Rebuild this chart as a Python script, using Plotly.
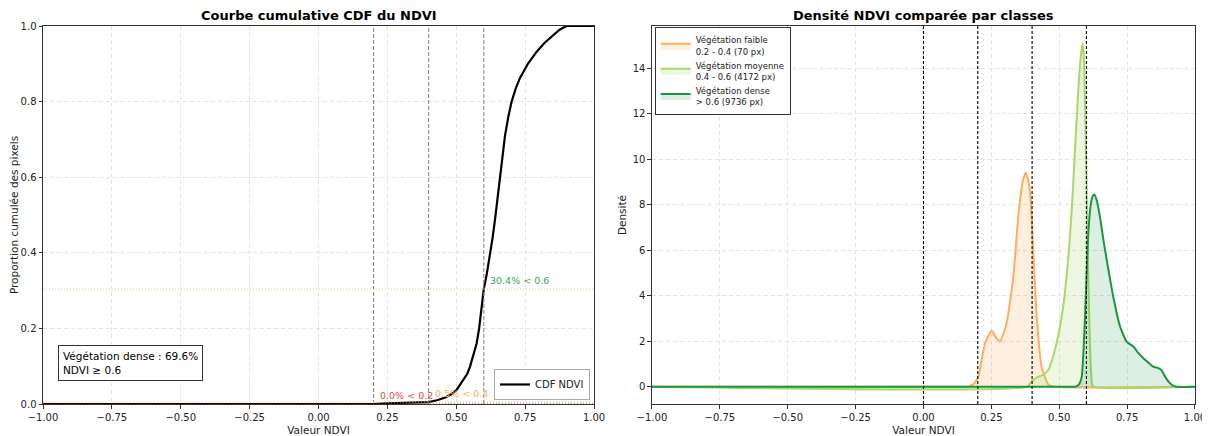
import plotly.graph_objects as go

# ---------------- DATA ----------------
cdf_x = [-1.0, 0.20, 0.25, 0.30, 0.35, 0.40, 0.43, 0.46, 0.48, 0.50, 0.52, 0.54, 0.55, 0.56, 0.574,
         0.583, 0.592, 0.600, 0.611, 0.622, 0.632, 0.641, 0.650, 0.659, 0.668, 0.677, 0.689,
         0.701, 0.716, 0.731, 0.76, 0.792, 0.82, 0.852, 0.875, 0.90, 1.0]
cdf_y = [0.0, 0.0, 0.002, 0.003, 0.004, 0.005, 0.010, 0.017, 0.025, 0.036, 0.058, 0.080, 0.099, 0.122, 0.16,
         0.20, 0.25, 0.304, 0.345, 0.392, 0.44, 0.49, 0.545, 0.605, 0.66, 0.71, 0.76,
         0.80, 0.835, 0.862, 0.90, 0.932, 0.955, 0.976, 0.99, 1.0, 1.0]

thresholds = [0.2, 0.4, 0.6]
threshold_pcts = [0.0, 0.5, 30.4]
threshold_labels = ["0.0% < 0.2", "0.5% < 0.4", "30.4% < 0.6"]
dense_pct = 69.6

faible_x = [-1.0, 0.15, 0.165, 0.185, 0.202, 0.227, 0.251, 0.268, 0.282, 0.306, 0.331, 0.349,
            0.365, 0.376, 0.387, 0.395, 0.404, 0.417, 0.435, 0.460, 0.48, 1.0]
faible_y = [0, 0, 0.02, 0.12, 0.45, 1.92, 2.46, 2.15, 1.99, 2.79, 4.84, 7.47,
            9.0, 9.40, 9.0, 8.2, 6.01, 3.08, 0.89, 0.09, 0, 0]

moyenne_x = [-1.0, 0.38, 0.398, 0.417, 0.441, 0.460, 0.484, 0.509, 0.527, 0.546, 0.558, 0.570,
             0.580, 0.586, 0.590, 0.595, 0.600, 0.605, 0.610, 0.615, 0.620, 0.625, 1.0]
moyenne_y = [0, 0, 0.23, 0.41, 0.53, 0.75, 1.62, 3.08, 4.84, 7.77, 10.4, 13.0,
             14.6, 15.1, 14.6, 12.5, 9.5, 6.0, 3.2, 1.2, 0.2, 0, 0]

dense_x = [-1.0, 0.555, 0.564, 0.575, 0.583, 0.589, 0.595, 0.601, 0.607, 0.615, 0.622, 0.629,
           0.638, 0.650, 0.662, 0.675, 0.699, 0.724, 0.748, 0.773, 0.79, 0.810, 0.830, 0.846,
           0.865, 0.875, 0.883, 0.895, 0.908, 0.92, 0.933, 1.0]
dense_y = [0, 0, 0.02, 0.15, 0.45, 1.5, 3.08, 5.0, 6.74, 7.9, 8.35, 8.45,
           8.2, 7.47, 6.5, 5.57, 3.96, 2.65, 1.99, 1.77, 1.5, 1.26, 1.05, 0.89,
           0.82, 0.75, 0.60, 0.35, 0.16, 0.05, 0, 0]

class_names = ["Végétation faible<br>0.2 - 0.4 (70 px)",
               "Végétation moyenne<br>0.4 - 0.6 (4172 px)",
               "Végétation dense<br>> 0.6 (9736 px)"]
class_colors = ["#fdae61", "#a6d96a", "#1a9641"]
class_fills = ["rgba(253,174,97,0.2)", "rgba(166,217,106,0.2)", "rgba(26,150,65,0.15)"]
thr_colors = ["#d7191c", "#fdae61", "#a6d96a"]
thr_text_colors = ["#e8474a", "#fdae61", "#3aa85a"]
dens_lines = [0.0, 0.2, 0.4, 0.6]

FONT = "DejaVu Sans"

fig = go.Figure()

# ---------- Left: CDF ----------
for i, t in enumerate(thresholds):
    fig.add_shape(type="line", xref="x", yref="y domain", x0=t, x1=t, y0=0, y1=1,
                  line=dict(color="gray", width=1, dash="4px,2px"), layer="above")
    fig.add_shape(type="line", xref="x domain", yref="y", x0=0, x1=1,
                  y0=threshold_pcts[i] / 100, y1=threshold_pcts[i] / 100,
                  line=dict(color=thr_colors[i], width=1, dash="1px,2px"), opacity=0.8, layer="above")
    fig.add_annotation(x=t + 0.015, y=threshold_pcts[i] / 100 + 0.003, xref="x", yref="y",
                       text=threshold_labels[i], showarrow=False, xanchor="left", yanchor="bottom",
                       font=dict(family=FONT, size=9.5, color=thr_text_colors[i]))

fig.add_trace(go.Scatter(x=cdf_x, y=cdf_y, mode="lines", name="CDF NDVI",
                         line=dict(color="black", width=2.2), xaxis="x", yaxis="y",
                         legend="legend"))

fig.add_annotation(xref="x domain", yref="y domain", x=0.027, y=0.062, xanchor="left", yanchor="bottom",
                   text="Végétation dense : %.1f%%<br>NDVI ≥ 0.6" % dense_pct, showarrow=False, align="left",
                   font=dict(family=FONT, size=10.5, color="black"), bgcolor="white",
                   bordercolor="#333", borderwidth=1, borderpad=4)

# ---------- Right: densities ----------
for xs, ys, nm, c, fc in zip([faible_x, moyenne_x, dense_x], [faible_y, moyenne_y, dense_y],
                              class_names, class_colors, class_fills):
    fig.add_trace(go.Scatter(x=xs, y=ys, mode="lines", name=nm, fill="tozeroy", fillcolor=fc,
                             line=dict(color=c, width=2, shape="spline", smoothing=0.5),
                             xaxis="x2", yaxis="y2", legend="legend2"))

for t in dens_lines:
    fig.add_shape(type="line", xref="x2", yref="y2 domain", x0=t, x1=t, y0=0, y1=1,
                  line=dict(color="black", width=1.1, dash="3px,2px"), layer="above")

# titles
fig.add_annotation(xref="x domain", yref="paper", x=0.5, y=1.0, yshift=1, yanchor="bottom",
                   text="<b>Courbe cumulative CDF du NDVI</b>", showarrow=False,
                   font=dict(family=FONT, size=13, color="black"))
fig.add_annotation(xref="x2 domain", yref="paper", x=0.5, y=1.0, yshift=1, yanchor="bottom",
                   text="<b>Densité NDVI comparée par classes</b>", showarrow=False,
                   font=dict(family=FONT, size=13, color="black"))

axis_common = dict(showline=True, linecolor="#333", linewidth=1, mirror=True, ticks="outside",
                   ticklen=3.5, tickcolor="#333", showgrid=True, gridcolor="#e3e3e3", griddash="4px,3px",
                   gridwidth=0.8, zeroline=False, automargin=False,
                   tickfont=dict(family=FONT, size=10, color="#222"))

# the page body adds an 8 px offset, so the figure is sized to fit the window
fig.update_layout(
    width=1202, height=428, margin=dict(l=35, r=15, t=18, b=32),
    paper_bgcolor="white", plot_bgcolor="white",
    font=dict(family=FONT, size=10, color="#222"),
    xaxis=dict(domain=[0, 0.4783], range=[-1, 1], dtick=0.25, tickformat=".2f",
               title=dict(text="Valeur NDVI", standoff=6, font=dict(family=FONT, size=10.5)), **axis_common),
    yaxis=dict(range=[0, 1], dtick=0.2, tickformat=".1f",
               title=dict(text="Proportion cumulée des pixels", standoff=0, font=dict(family=FONT, size=10.5)),
               **axis_common),
    xaxis2=dict(domain=[0.5286, 1.0], range=[-1, 1], dtick=0.25, tickformat=".2f", anchor="y2",
                title=dict(text="Valeur NDVI", standoff=6, font=dict(family=FONT, size=10.5)), **axis_common),
    yaxis2=dict(range=[-0.755, 15.86], dtick=2, anchor="x2",
                title=dict(text="Densité", standoff=4, font=dict(family=FONT, size=10.5)), **axis_common),
    legend=dict(x=0.4748, y=0.0106, xanchor="right", yanchor="bottom", bgcolor="white",
                bordercolor="#aaa", borderwidth=1, font=dict(family=FONT, size=10, color="#222")),
    legend2=dict(x=0.531, y=0.997, xanchor="left", yanchor="top", bgcolor="white",
                 bordercolor="#333", borderwidth=1, font=dict(family=FONT, size=8.5, color="#222"),
                 tracegroupgap=0),
    showlegend=True,
)

fig.write_html("out.html")
